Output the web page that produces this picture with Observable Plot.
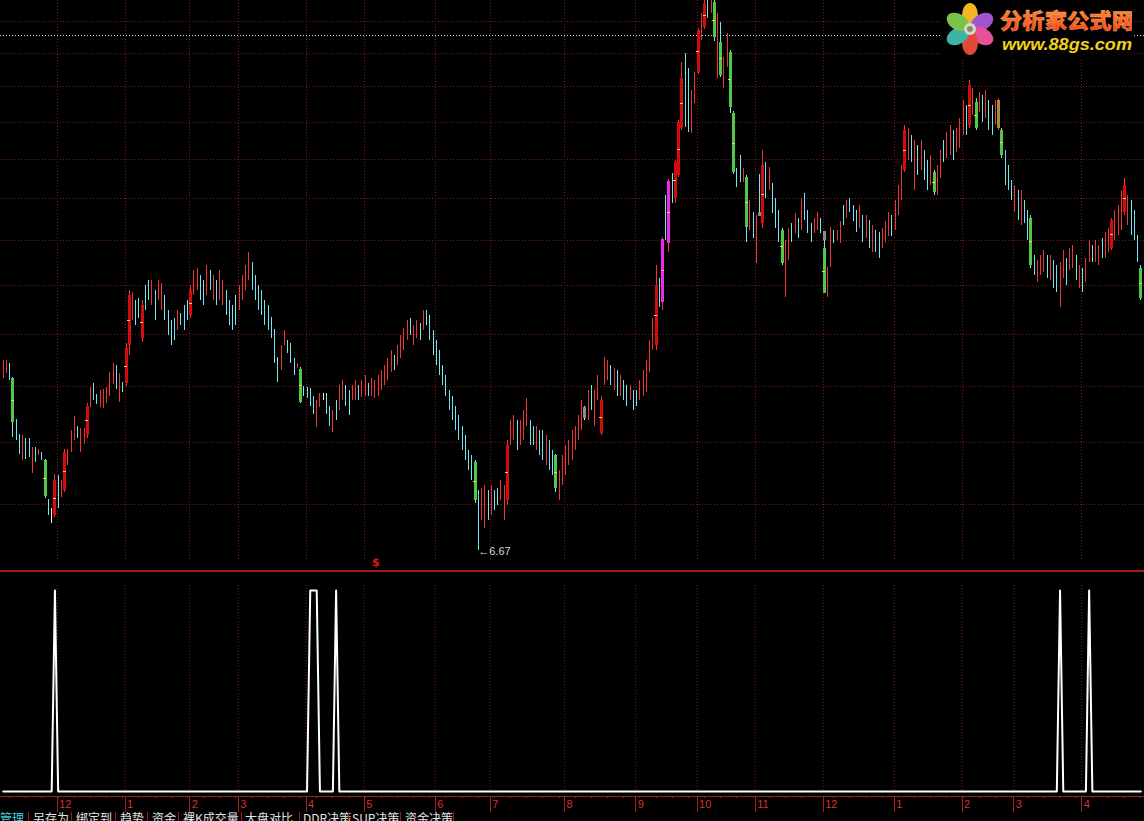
<!DOCTYPE html>
<html><head><meta charset="utf-8">
<script src="https://cdn.jsdelivr.net/npm/d3@7"></script>
<script src="https://cdn.jsdelivr.net/npm/@observablehq/plot@0.6"></script>
<style>
html,body{margin:0;padding:0;background:#000;}
#root{position:relative;width:1144px;height:821px;background:#000;overflow:hidden;}
.layer{position:absolute;left:0;}
.crisp line{shape-rendering:crispEdges;}
.tab{position:absolute;top:812px;font:12px/12px "Noto Sans CJK SC","Noto Sans",sans-serif;color:#e4e4e4;white-space:nowrap;}
.sep{position:absolute;top:812px;width:1px;height:9px;background:#a01818;}
</style></head><body><div id="root"></div>
<script>
// ---- data (prices) ----
const highs = [
8.92,8.93,8.89,8.70,8.15,7.97,7.95,7.92,7.92,7.81,
7.81,7.79,7.75,7.67,7.21,7.11,7.49,7.48,7.42,7.78,
7.79,8.02,8.19,8.07,8.04,8.04,8.35,8.56,8.61,8.47,
8.52,8.53,8.56,8.76,8.88,8.86,8.75,8.63,9.16,9.94,
9.90,9.79,9.82,9.79,10.02,10.09,10.09,9.94,10.09,10.04,
9.86,9.64,9.49,9.52,9.64,9.59,9.71,9.79,10.02,10.25,
10.28,10.17,10.09,10.33,10.25,10.17,10.09,10.25,10.09,9.94,
9.79,9.71,9.86,10.02,10.17,10.33,10.54,10.38,10.17,10.02,
9.94,9.79,9.71,9.53,9.36,8.96,9.13,9.35,9.20,9.16,
8.95,8.89,8.83,8.57,8.56,8.55,8.45,8.39,8.48,8.48,
8.48,8.31,8.26,8.39,8.59,8.65,8.59,8.52,8.59,8.65,
8.59,8.65,8.72,8.61,8.68,8.65,8.72,8.79,8.85,8.95,
9.06,8.99,9.13,9.27,9.38,9.49,9.52,9.42,9.49,9.45,
9.64,9.64,9.56,9.35,9.20,9.06,8.85,8.72,8.52,8.45,
8.32,8.20,8.07,7.95,7.77,7.71,7.65,7.31,7.33,7.36,
7.31,7.36,7.31,7.33,7.42,7.36,7.89,8.14,8.20,8.14,
8.14,8.26,8.42,8.14,8.07,8.07,8.01,8.01,7.95,7.89,
7.77,7.73,7.54,7.71,7.83,7.89,8.01,8.07,8.20,8.39,
8.32,8.52,8.59,8.52,8.72,8.45,8.96,8.92,8.85,8.81,
8.79,8.72,8.65,8.59,8.59,8.52,8.52,8.65,8.79,8.92,
9.20,9.52,10.33,10.13,10.78,11.50,11.79,11.90,12.13,12.90,
14.11,14.30,13.97,13.51,13.89,14.86,15.21,15.51,15.51,15.51,
15.51,15.21,15.00,14.21,14.74,14.37,13.08,11.98,12.22,11.98,
11.86,11.41,11.20,11.15,11.88,12.32,12.10,12.00,11.71,11.45,
11.24,10.93,10.73,10.93,11.02,11.19,11.10,11.45,11.54,11.24,
11.02,11.10,11.20,11.10,10.88,10.30,10.95,10.90,10.90,11.04,
11.33,11.41,11.45,11.33,11.24,11.33,11.15,11.15,11.07,10.98,
10.90,10.87,10.93,11.04,11.20,11.15,11.41,11.68,12.04,12.80,
12.75,12.61,12.51,12.42,12.51,12.32,12.13,12.23,11.95,12.04,
12.32,12.51,12.67,12.80,12.71,12.75,12.94,13.30,13.20,13.72,
13.55,13.34,13.47,13.41,13.51,13.30,13.20,13.30,13.34,12.75,
12.32,12.04,11.77,11.68,11.59,11.59,11.41,11.24,11.15,10.49,
10.41,10.49,10.57,10.49,10.49,10.41,10.33,10.38,10.57,10.44,
10.60,10.65,10.49,10.33,10.28,10.44,10.73,10.65,10.73,10.65,
10.76,10.87,10.93,11.10,11.24,11.33,11.59,11.80,11.50,11.41,
11.24,10.81,10.33];
const lows = [
8.68,8.75,8.65,7.93,7.89,7.73,7.65,7.67,7.69,7.50,
7.63,7.71,7.65,7.22,7.03,6.95,7.01,7.11,7.23,7.29,
7.60,7.75,7.89,7.92,7.75,7.85,7.92,8.30,8.39,8.34,
8.30,8.29,8.36,8.45,8.60,8.53,8.37,8.50,8.57,8.99,
9.49,9.42,9.52,9.17,9.64,9.79,9.71,9.49,9.79,9.64,
9.49,9.27,9.13,9.20,9.35,9.42,9.35,9.49,9.52,9.86,
9.94,9.79,9.71,9.86,9.94,9.79,9.71,9.79,9.71,9.56,
9.42,9.35,9.42,9.64,9.79,9.94,10.09,9.94,9.79,9.64,
9.56,9.42,9.35,9.23,8.89,8.63,8.79,9.13,9.02,8.88,
8.72,8.81,8.35,8.45,8.42,8.31,8.22,8.05,8.30,8.39,
8.22,8.06,7.99,8.14,8.26,8.39,8.32,8.20,8.39,8.39,
8.39,8.43,8.45,8.45,8.45,8.42,8.45,8.52,8.59,8.65,
8.76,8.79,8.85,8.95,9.06,9.20,9.27,9.13,9.23,9.20,
9.35,9.42,9.20,8.99,8.85,8.72,8.59,8.45,8.26,8.14,
8.01,7.89,7.77,7.65,7.54,7.42,7.17,6.67,6.98,6.89,
6.98,7.03,7.09,7.14,7.20,6.98,7.14,7.83,7.89,7.77,
7.83,7.89,8.07,7.83,7.83,7.77,7.71,7.65,7.60,7.54,
7.48,7.29,7.20,7.36,7.48,7.60,7.65,7.77,7.89,8.01,
8.14,8.14,8.26,8.07,8.39,7.95,8.59,8.65,8.59,8.52,
8.45,8.45,8.39,8.32,8.39,8.26,8.32,8.39,8.45,8.49,
8.76,9.06,9.06,9.68,9.64,10.73,10.54,11.36,11.36,11.82,
12.71,12.77,12.67,12.65,13.24,13.85,14.59,14.83,15.09,15.21,
14.57,13.76,13.78,13.55,13.99,13.04,11.88,11.64,11.73,11.73,
10.70,10.90,10.76,10.36,11.14,10.93,11.45,11.59,11.19,10.93,
10.70,10.33,9.83,10.41,10.70,10.85,10.76,10.90,11.07,10.85,
10.70,10.85,10.90,10.85,9.89,9.83,10.30,10.68,10.73,10.68,
10.98,11.10,11.20,11.04,10.87,10.93,10.70,10.76,10.60,10.54,
10.54,10.44,10.60,10.70,10.79,10.79,10.90,11.15,11.41,11.91,
12.13,12.10,11.59,11.86,11.95,11.77,11.59,11.68,11.50,11.50,
11.80,12.10,12.18,12.23,12.13,12.28,12.36,12.61,12.61,12.75,
13.00,12.71,13.06,12.86,12.94,12.71,12.61,12.80,12.71,12.18,
11.68,11.59,11.41,11.20,11.07,10.98,11.02,10.73,10.28,10.17,
10.06,10.17,10.22,10.12,10.09,9.97,9.91,9.68,10.12,10.02,
10.25,10.28,10.09,9.97,9.91,10.06,10.38,10.38,10.38,10.33,
10.44,10.44,10.54,10.57,10.73,10.81,10.90,11.15,10.98,10.81,
10.73,10.38,9.79];
// 1 = up (red), -1 = down (cyan), 0 = flat (white)
const dirs = [
1,1,-1,-1,-1,-1,1,-1,-1,1, -1,1,-1,-1,-1,0,1,-1,1,1,
1,1,1,-1,1,1,1,1,-1,-1, 1,1,1,1,1,-1,1,-1,1,1,
1,-1,-1,1,-1,-1,1,-1,1,1, -1,-1,-1,-1,1,-1,-1,-1,1,1,
1,-1,-1,1,-1,1,-1,1,1,-1, -1,-1,-1,1,1,1,1,-1,-1,-1,
-1,-1,-1,-1,-1,-1,1,1,-1,-1, -1,1,-1,-1,-1,-1,-1,1,1,0,
-1,-1,1,-1,1,1,-1,-1,1,1, -1,1,1,-1,1,1,1,1,1,1,
1,-1,1,1,1,1,-1,1,1,-1, 1,-1,-1,-1,-1,-1,-1,-1,-1,-1,
-1,-1,-1,-1,-1,-1,-1,-1,1,1, -1,1,-1,-1,1,1,1,1,1,-1,
1,1,1,-1,-1,1,-1,-1,1,-1, -1,-1,1,1,1,1,1,1,1,1,
0,1,-1,1,1,1,1,1,-1,1, -1,1,-1,-1,1,-1,-1,1,1,1,
1,1,1,-1,1,-1,1,-1,1,1, 1,-1,-1,1,1,1,1,1,-1,1,
-1,1,-1,1,1,-1,-1,-1,-1,1, -1,1,-1,1,-1,1,-1,1,-1,-1,
-1,-1,1,1,-1,1,-1,1,-1,-1, -1,1,1,-1,-1,1,1,-1,1,1,
-1,1,-1,-1,-1,1,-1,1,-1,1, -1,-1,1,1,1,-1,1,1,1,1,
1,-1,1,-1,1,-1,-1,1,-1,1, 1,-1,1,1,-1,1,1,1,-1,1,
1,-1,1,-1,1,-1,-1,1,1,-1, -1,-1,-1,1,-1,1,-1,-1,-1,-1,
1,1,1,-1,1,-1,-1,1,1,-1, 1,1,-1,1,-1,1,1,-1,1,1,
-1,1,1,1,1,1,1,1,1,-1, -1,-1,-1];
// thick highlighted bodies: index, open, close, kind (r red, g green, m magenta, s grey, o olive)
const bodyIdx   = [3,13,16,19,26,38,39,43,58,92,146,156,171,180,185,202,204,206,208,209,210,215,217,220,222,225,226,230,234,235,241,254,254,279,288,299,301,308,309,318,343,347,352];
const bodyOpen  = [8.68,7.65,7.03,7.31,7.95,8.61,9.13,9.23,9.56,8.80,7.63,7.20,7.71,8.17,7.98,9.13,9.76,10.68,11.45,11.86,12.75,13.89,14.88,15.46,14.55,14.33,13.04,11.82,11.14,11.02,10.90,10.88,10.60,11.95,11.91,12.80,13.26,12.75,12.71,11.10,10.60,11.20,10.28];
const bodyClose = [8.11,7.24,7.42,7.75,8.32,9.09,9.86,9.71,9.94,8.37,7.20,7.83,7.33,8.30,8.39,10.02,10.75,11.75,12.10,12.86,13.76,14.81,15.44,14.66,13.83,13.16,11.91,10.95,11.20,12.04,10.36,10.73,9.89,12.71,11.56,13.61,12.75,13.30,12.23,10.33,11.07,11.68,9.82];
const bodyKind  = ["g","g","r","r","r","r","r","r","r","g","g","r","g","s","r","r","m","m","r","r","r","r","r","g","g","g","g","g","s","r","g","s","g","r","g","r","g","o","g","g","r","r","g"];
// lower indicator: bars where the signal fires (value 1), else 0
const signalIdx = [16,95,96,97,103,327,336];
// month boundaries and labels
const monthIdx = [17,38,58,73,94,112,134,151,174,196,215,233,254,276,297,313,334];
const monthLabels = ["12","1","2","3","4","5","6","7","8","9","10","11","12","1","2","3","4"];
// horizontal price grid (log axis) and reference line
const gridPrices = [7.15,7.865,8.58,9.295,10.01,10.725,11.44,12.155,12.87,13.585,14.30,15.015];
const refPrice = [14.71];
const lowMark = [{i:147, price:6.67}];
const tabLabels = ["管理","另存为","绑定到","趋势","资金","裸K成交量","大盘对比","DDR决策","SUP决策","资金决策"];
const tabLeft   = [0,33,76,120,152,183,245,303,352,405];
const tabSeps   = [28,71,115,147,178,241,299,348,400,453];

// ---- build ----
const W = 1144;
const xDomain = [-0.84, 353.13];
const yDomain = [6.454, 15.514];
const candles = highs.map((h, i) => ({i, high: h, low: lows[i], dir: dirs[i]}));
const bodies = bodyIdx.map((i, k) => ({i, open: bodyOpen[k], close: bodyClose[k], kind: bodyKind[k]}));
const signal = highs.map((_, i) => ({i, v: signalIdx.includes(i) ? 1 : 0}));
const weekTicks = d3.range(2, 353, 5);
const lineCol = d => d.dir > 0 ? "#f03434" : d.dir < 0 ? "#70e6f2" : "#f4f4f4";
const kindCol = {r: "#d40c0c", g: "#50c848", m: "#f028f0", s: "#8c8c8c", o: "#a88c30"};
const gridCol = "#7e1c1c";

const root = document.getElementById("root");
function place(el, top, cls) {
  const wrap = document.createElement("div");
  wrap.className = "layer " + (cls || "");
  wrap.style.top = top + "px";
  wrap.appendChild(el);
  root.appendChild(wrap);
}

const mainPlot = Plot.plot({
  width: W, height: 572,
  marginTop: 0, marginRight: 0, marginBottom: 1, marginLeft: 0,
  style: {background: "transparent", fontFamily: "'Liberation Sans', Arial, sans-serif", overflow: "visible"},
  x: {domain: xDomain, axis: null},
  y: {type: "log", domain: yDomain, axis: null},
  color: {type: "identity"},
  marks: [
    Plot.ruleY(gridPrices, {stroke: gridCol, strokeDasharray: "1,2"}),
    Plot.ruleX(monthIdx, {x: d => d - 0.3, stroke: gridCol, strokeDasharray: "1,2", insetBottom: 11}),
    Plot.ruleY(refPrice, {stroke: "#d8d8d8", strokeDasharray: "1,2"}),
    Plot.ruleX(candles, {x: "i", y1: "low", y2: "high", stroke: lineCol, strokeWidth: 1}),
    Plot.ruleX(bodies, {x: "i", y1: "open", y2: "close", stroke: d => kindCol[d.kind], strokeWidth: 3}),
    Plot.ruleY(bodies.filter(d => d.kind !== "s" && d.kind !== "o"), {
      y: d => Math.sqrt(d.open * d.close), x1: d => d.i - 0.47, x2: d => d.i + 0.47, stroke: "#ffd84a"
    }),
    Plot.text(lowMark, {x: "i", y: "price", text: d => "←" + d.price.toFixed(2), textAnchor: "start",
      dy: 1, fill: "#d6d6d6", fontSize: 11}),
    Plot.ruleY([yDomain[0]], {stroke: "#a01c1c", strokeWidth: 2, dy: -0.5})
  ]
});
place(mainPlot, 0, "crisp");

const lowPlot = Plot.plot({
  width: W, height: 223,
  marginTop: 13, marginRight: 0, marginBottom: 4, marginLeft: 0,
  style: {background: "transparent"},
  x: {domain: xDomain, axis: null},
  y: {domain: [0, 1.025], axis: null},
  marks: [
    Plot.ruleX(monthIdx, {x: d => d - 0.3, stroke: gridCol, strokeDasharray: "1,2"}),
    Plot.line(signal, {x: "i", y: "v", stroke: "#ffffff", strokeWidth: 2})
  ]
});
place(lowPlot, 572);

const axisPlot = Plot.plot({
  width: W, height: 17,
  marginTop: 0.5, marginRight: 0, marginBottom: 0.5, marginLeft: 0,
  style: {background: "transparent", fontFamily: "'Liberation Sans', Arial, sans-serif"},
  x: {domain: xDomain, axis: null},
  y: {domain: [0, 1], axis: null},
  marks: [
    Plot.ruleY([0, 1], {stroke: "#a81e1e"}),
    Plot.ruleX(monthIdx, {x: d => d - 0.3, stroke: "#a81e1e"}),
    Plot.ruleX(weekTicks, {x: d => d, y1: 1, y2: 0.84, stroke: "#a81e1e"}),
    Plot.text(monthIdx, {x: d => d - 0.3, y: 0.5, text: (d, k) => monthLabels[k], dx: 2,
      textAnchor: "start", fill: "#d43434", fontSize: 11})
  ]
});
place(axisPlot, 795, "crisp");

// bottom tab bar
tabLabels.forEach((t, k) => {
  const s = document.createElement("div");
  s.className = "tab";
  s.style.left = tabLeft[k] + "px";
  if (k === 0) s.style.color = "#3ad6e0";
  s.textContent = t;
  root.appendChild(s);
});
tabSeps.forEach(x => {
  const s = document.createElement("div");
  s.className = "sep";
  s.style.left = x + "px";
  root.appendChild(s);
});

// "$" marker
const dollar = document.createElement("div");
dollar.textContent = "$";
dollar.style.cssText = "position:absolute;left:372px;top:556px;color:#e01818;font:bold 11px 'DejaVu Sans',sans-serif;";
root.appendChild(dollar);

// logo
const logo = document.createElement("div");
logo.style.cssText = "position:absolute;left:942px;top:0;width:190px;height:58px;background:#000;";
logo.innerHTML = `<svg width="190" height="58" xmlns="http://www.w3.org/2000/svg">
 <defs><linearGradient id="lg" x1="0" y1="0" x2="0" y2="1"><stop offset="0" stop-color="#ff9a3a"/><stop offset="1" stop-color="#ff3a12"/></linearGradient></defs>
 <g transform="translate(28,29)">
  <ellipse cx="0" cy="-14" rx="8" ry="12" fill="#f4b524" transform="rotate(0)"/>
  <ellipse cx="0" cy="-14" rx="8" ry="12" fill="#a054d0" transform="rotate(60)"/>
  <ellipse cx="0" cy="-14" rx="8" ry="12" fill="#e8509a" transform="rotate(120)"/>
  <ellipse cx="0" cy="-14" rx="8" ry="12" fill="#e0483a" transform="rotate(180)"/>
  <ellipse cx="0" cy="-14" rx="8" ry="12" fill="#3cb4a8" transform="rotate(240)"/>
  <ellipse cx="0" cy="-14" rx="8" ry="12" fill="#78c44a" transform="rotate(300)"/>
  <circle r="6" fill="#d8d8c8"/><circle r="3" fill="#8a8a70"/>
 </g>
 <text x="58" y="28" font-family="Noto Sans CJK SC" font-weight="900" font-size="21" fill="url(#lg)" stroke="#ffb070" stroke-width="0.4" textLength="134" lengthAdjust="spacingAndGlyphs">分析家公式网</text>
 <text x="60" y="50" font-family="Liberation Sans" font-weight="bold" font-style="italic" font-size="17" fill="#f2d218" textLength="130" lengthAdjust="spacingAndGlyphs">www.88gs.com</text>
</svg>`;
root.appendChild(logo);
</script></body></html>
